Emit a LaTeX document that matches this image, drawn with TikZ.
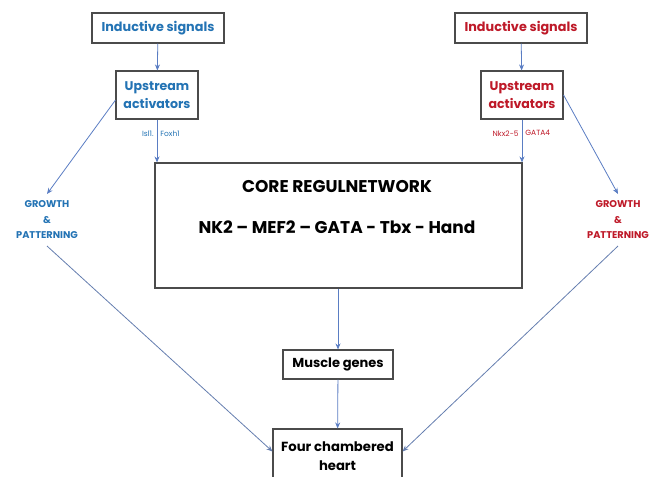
\documentclass[tikz,border=0pt]{standalone}
\usepackage{fontspec}
\setmainfont{Poppins}
\usetikzlibrary{arrows.meta,positioning,calc}
\definecolor{sigblue}{RGB}{35,115,180}
\definecolor{sigred}{RGB}{190,25,40}
\definecolor{arrblue}{RGB}{90,125,195}
\definecolor{boxgray}{RGB}{75,75,75}

\begin{document}
\begin{tikzpicture}[
  x=1pt, y=-1pt,
  box/.style={draw=boxgray, line width=1.1pt, align=center, inner sep=0pt, fill=white},
  sigbox/.style={box, font=\fontsize{12.8}{15}\selectfont\bfseries, minimum width=132pt, minimum height=30pt},
  upbox/.style={box, font=\fontsize{12.6}{17.5}\selectfont\bfseries, minimum width=82pt, minimum height=48pt},
  growlbl/.style={align=center, font=\fontsize{9.8}{15.5}\selectfont\bfseries, inner sep=0pt, outer sep=7pt},
  genelbl/.style={font=\fontsize{7.5}{8}\selectfont, inner sep=3pt},
  arr/.style={-{Stealth[length=6pt,width=5pt]}, draw=arrblue, line width=0.8pt},
  linkline/.style={draw=arrblue!70!gray, line width=0.8pt},
]
\useasboundingbox (0,0) rectangle (652,476);

% left branch
\node[sigbox, text=sigblue] (sigL) at (158,28) {Inductive signals};
\node[upbox, text=sigblue] (upL) at (157,95) {Upstream\\activators};
\node[growlbl, text=sigblue] (growL) at (47,220) {GROWTH\\\&\\PATTERNING};

% right branch
\node[sigbox, text=sigred] (sigR) at (521,28) {Inductive signals};
\node[upbox, text=sigred] (upR) at (522,95) {Upstream\\activators};
\node[growlbl, text=sigred] (growR) at (618,220) {GROWTH\\\&\\PATTERNING};

% core network
\node[box, minimum width=367pt, minimum height=125pt] (core) at (338.5,225.5) {};
\node[font=\fontsize{17}{20}\selectfont\bfseries] (coreT) at (337,187) {CORE REGULNETWORK};
\node[font=\fontsize{17}{20}\selectfont\bfseries] (coreG) at (337,227) {NK2 -- MEF2 -- GATA - Tbx - Hand};

% outputs
\node[box, font=\fontsize{13}{15}\selectfont\bfseries, minimum width=110pt, minimum height=29pt] (muscle) at (338,364.5) {Muscle genes};
\node[box, font=\fontsize{13.2}{19}\selectfont\bfseries, minimum width=129pt, minimum height=54pt] (heart) at (337.5,456) {Four chambered\\heart};

\draw[arr] (sigL) -- (upL);
\draw[arr] (sigR) -- (upR);
\draw[arr] (upL.south) -- node[genelbl, pos=0.32, left, text=sigblue]{Isl1.} node[genelbl, pos=0.32, right, text=sigblue]{Foxh1} (upL.south |- core.north);
\draw[arr] (upR.south) -- node[genelbl, pos=0.32, left, text=sigred]{Nkx2-5} node[genelbl, pos=0.32, right, text=sigred]{GATA4} (upR.south |- core.north);
\draw[arr] (upL.187) -- (growL.north);
\draw[arr] (upR.east) -- (growR.north);
\draw[arr] (core.south -| muscle.north) -- (muscle.north);
\draw[arr] (muscle) -- (heart);
\draw[linkline, -{Stealth[length=6pt,width=5pt]}] (growL.south) -- (heart.176);
\draw[linkline, -{Stealth[length=6pt,width=5pt]}] (growR.south) -- (heart.4);
\end{tikzpicture}
\end{document}
